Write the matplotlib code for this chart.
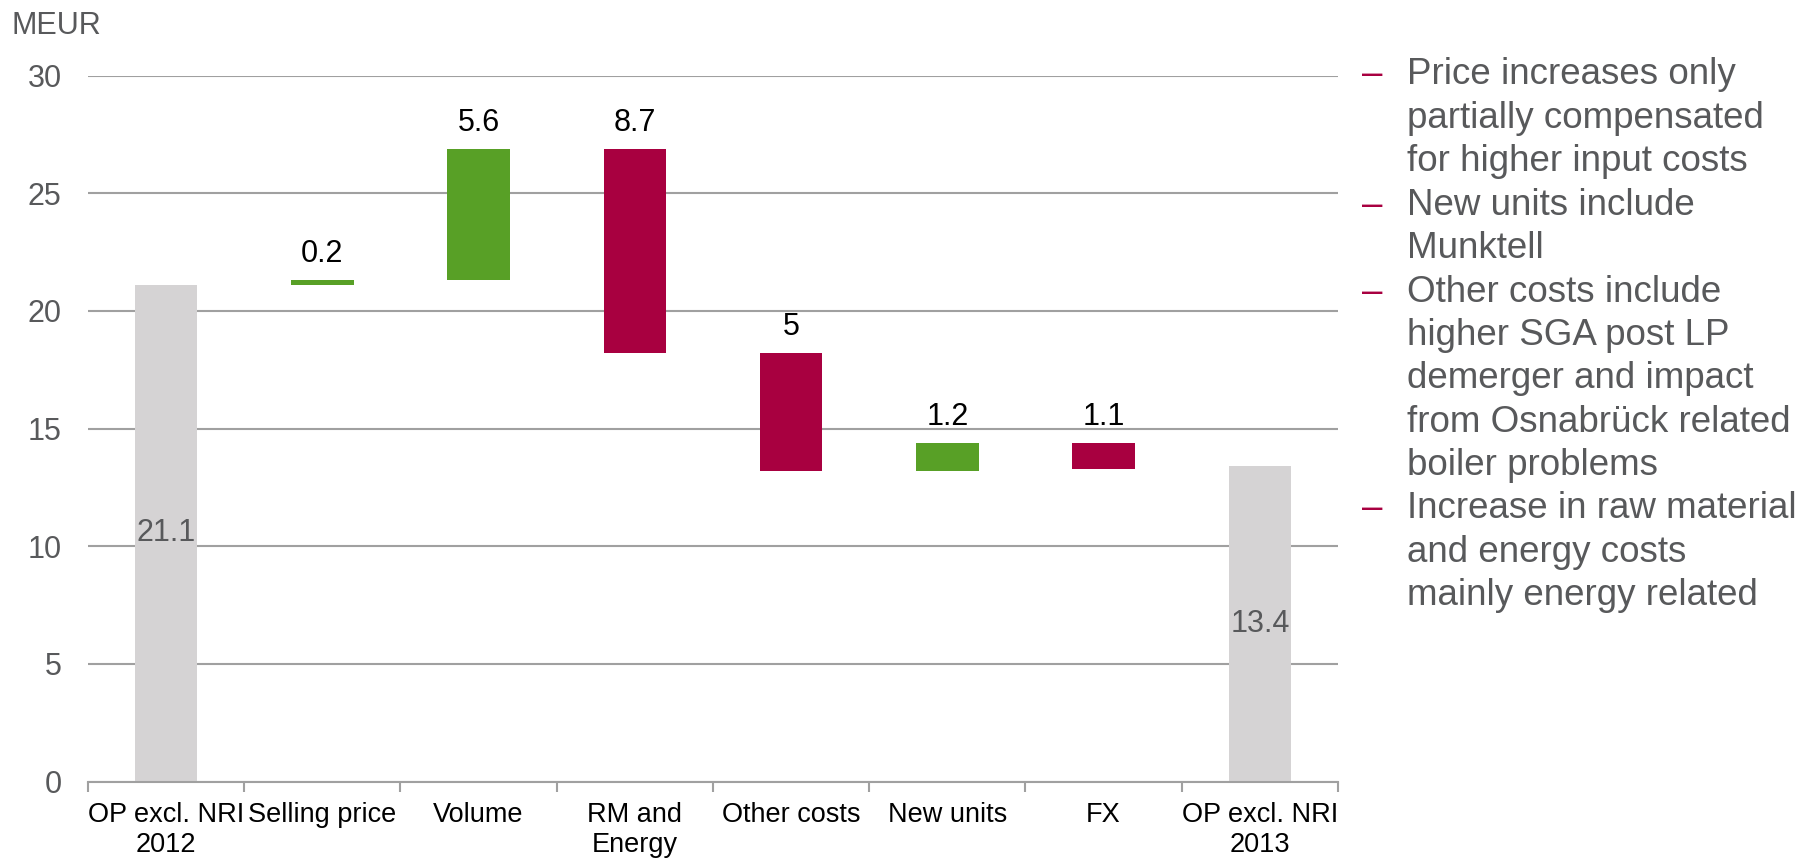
import matplotlib
matplotlib.use("Agg")
import matplotlib.pyplot as plt
import numpy as np

plt.rcParams['font.family'] = ['Liberation Sans', 'DejaVu Sans']

# data
categories = ["OP excl. NRI\n2012", "Selling price", "Volume", "RM and\nEnergy",
              "Other costs", "New units", "FX", "OP excl. NRI\n2013"]
start_value = 21.1
changes = [0.2, 5.6, -8.7, -5.0, 1.2, -1.1]
change_labels = ["0.2", "5.6", "8.7", "5", "1.2", "1.1"]
end_value = 13.4
yticks = [0, 5, 10, 15, 20, 25, 30]

notes = [
    ["Price increases only", "partially compensated", "for higher input costs"],
    ["New units include", "Munktell"],
    ["Other costs include", "higher SGA post LP", "demerger and impact",
     "from Osnabrück related", "boiler problems"],
    ["Increase in raw material", "and energy costs", "mainly energy related"],
]

GREY_BAR = "#d5d3d4"
GREEN = "#58a026"
RED = "#a80040"
TEXT_GREY = "#58595b"
GRID = "#a0a0a0"

fig = plt.figure(figsize=(18.08, 8.59), dpi=100)
ax = fig.add_axes([88 / 1808, 1 - 781.5 / 859, 1250 / 1808, 705.8 / 859])

x = np.arange(len(categories))
width = 0.4

# running totals for the waterfall
levels = start_value + np.concatenate([[0], np.cumsum(changes)])
lows = np.minimum(levels[:-1], levels[1:])
heights = np.abs(changes)
colors = [GREEN if c > 0 else RED for c in changes]

ax.set_axisbelow(True)
ax.grid(axis='y', color=GRID, linewidth=1.5)

# totals
totals_x = [x[0], x[-1]]
totals = [start_value, end_value]
ax.bar(totals_x, totals, width=width, color=GREY_BAR, zorder=2)
for xi, v in zip(totals_x, totals):
    ax.text(xi, v / 2, f"{v}", ha='center', va='center', fontsize=22,
            color=TEXT_GREY, zorder=3)

# changes
ax.bar(x[1:-1], heights, bottom=lows, width=width, color=colors, zorder=2)
for xi, lo, h, lab in zip(x[1:-1], lows, heights, change_labels):
    ax.annotate(lab, (xi, lo + h), xytext=(0, 13), textcoords='offset points',
                ha='center', va='baseline', fontsize=22, color='black')

ax.set_xlim(-0.5, len(categories) - 0.5)
ax.set_ylim(0, 30)
ax.set_yticks(yticks)
ax.tick_params(axis='y', length=0, pad=19, labelsize=22, labelcolor=TEXT_GREY)

ax.set_xticks(x)
ax.set_xticklabels(categories, fontsize=19.5, linespacing=1.2)
ax.set_xticks(np.arange(len(categories) + 1) - 0.5, minor=True)
ax.tick_params(axis='x', which='major', length=0, pad=15)
ax.tick_params(axis='x', which='minor', length=7, width=1.5, color=GRID)

for s in ['top', 'right', 'left']:
    ax.spines[s].set_visible(False)
ax.spines['bottom'].set_color(GRID)
ax.spines['bottom'].set_linewidth(1.5)

fig.text(12 / 1808, 1 - 25.5 / 859, "MEUR", ha='left', va='center',
         fontsize=22, color=TEXT_GREY)

# side notes
line = 0
for bullet in notes:
    y0 = 1 - (84.5 + line * 43.4) / 859
    fig.text(1362 / 1808, y0, "\u2013", ha='left', va='baseline',
             fontsize=26.5, color=RED)
    for txt in bullet:
        y = 1 - (84.5 + line * 43.4) / 859
        fig.text(1407 / 1808, y, txt, ha='left', va='baseline',
                 fontsize=26.5, color=TEXT_GREY)
        line += 1

fig.savefig("out.png", dpi=100)
